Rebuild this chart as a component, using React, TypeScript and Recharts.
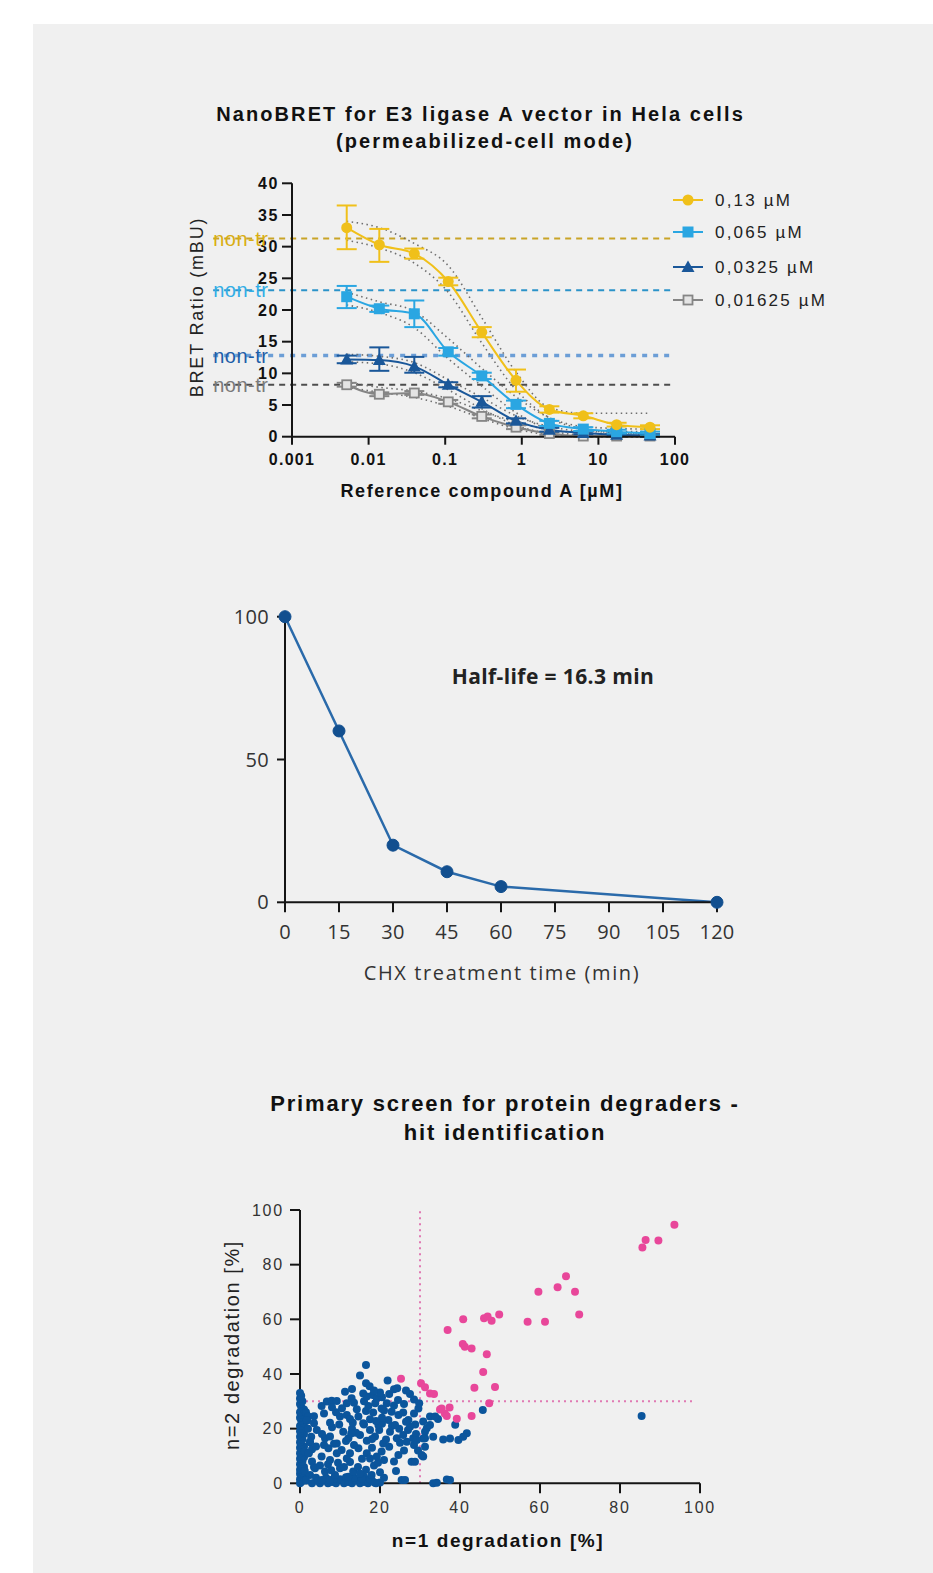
import React from 'react';
import { LineChart, Line, XAxis, YAxis, ErrorBar, ReferenceLine, ScatterChart, Scatter } from 'recharts';

// ---------- Chart 1: NanoBRET ----------
const concentrations = [0.00518, 0.0138, 0.0395, 0.1096, 0.3, 0.84, 2.29, 6.35, 17.3, 47.2];
const logTicks = [0.001, 0.01, 0.1, 1, 10, 100];
const bretTicks = [0, 5, 10, 15, 20, 25, 30, 35, 40];
const seriesNames = ['0,13 µM', '0,065 µM', '0,0325 µM', '0,01625 µM'];
const seriesColors = ['#f0c01a', '#2aa6e2', '#1a5799', '#858585'];
const seriesMarkers = ['circle', 'square', 'triangle', 'openSquare'];

const bret013 = [33.0, 30.3, 28.9, 24.5, 16.5, 8.9, 4.3, 3.3, 1.9, 1.5];
const err013 = [[3.4, 3.5], [2.7, 2.5], [0.8, 0.8], [0.6, 0.6], [0.8, 0.8], [1.8, 1.7], [0.5, 0.5], [0.4, 0.4], [0.3, 0.3], [0.3, 0.3]];
const bret0065 = [22.1, 20.2, 19.4, 13.4, 9.6, 5.1, 2.1, 1.2, 0.8, 0.5];
const err0065 = [[1.8, 1.7], [0.5, 0.5], [2.1, 2.1], [0.6, 0.6], [0.5, 0.5], [0.6, 0.6], [0.4, 0.4], [0.3, 0.3], [0.3, 0.3], [0.3, 0.3]];
const bret00325 = [12.2, 12.1, 11.1, 8.2, 5.5, 2.5, 1.1, 0.6, 0.3, 0.2];
const err00325 = [[0.6, 0.6], [1.7, 2.0], [1.0, 1.5], [0.4, 0.4], [0.9, 0.9], [0.4, 0.4], [0.3, 0.3], [0.2, 0.2], [0.2, 0.2], [0.2, 0.2]];
const bret001625 = [8.2, 6.7, 6.9, 5.5, 3.2, 1.5, 0.5, 0.1, 0.1, 0.1];
const err001625 = [[0.3, 0.3], [0.3, 0.3], [0.3, 0.3], [0.3, 0.3], [0.3, 0.3], [0.3, 0.3], [0.2, 0.2], [0.1, 0.1], [0.1, 0.1], [0.1, 0.1]];

const band013Hi = [34.0, 33.0, 30.5, 27.0, 18.8, 10.2, 4.6, 3.7, 3.7, 3.7];
const band013Lo = [31.0, 29.8, 27.4, 22.8, 14.8, 7.4, 3.0, 1.2, 0.6, 0.4];
const band0065Hi = [22.8, 21.3, 19.8, 15.5, 10.8, 6.3, 3.0, 1.6, 1.3, 1.2];
const band0065Lo = [20.8, 19.6, 17.2, 12.3, 8.0, 3.8, 1.1, 0.2, 0, 0];
const band00325Hi = [13.0, 12.7, 11.7, 9.0, 6.2, 3.3, 1.6, 0.9, 0.8, 0.8];
const band00325Lo = [11.8, 11.5, 10.1, 7.4, 4.4, 1.8, 0.5, 0.1, 0, 0];
const band001625Hi = [8.6, 7.8, 7.2, 6.0, 4.1, 2.3, 1.1, 0.6, 0.5, 0.5];
const band001625Lo = [7.8, 7.0, 6.2, 4.8, 2.9, 1.2, 0.3, 0, 0, 0];

const nonTreatedLevels = [31.3, 23.1, 12.8, 8.2];
const nonTreatedLineColors = ['#c9a427', '#2b93c9', '#6c9ed6', '#4d4d4d'];
const nonTreatedLabelColors = ['#d9ae12', '#33aee6', '#1d5ea8', '#7a7a7a'];
const nonTreatedWidths = [2, 2, 3.5, 2];

const bretRows = concentrations.map((c, i) => ({
  conc: c,
  s1: bret013[i], e1: err013[i], h1: band013Hi[i], l1: band013Lo[i],
  s2: bret0065[i], e2: err0065[i], h2: band0065Hi[i], l2: band0065Lo[i],
  s3: bret00325[i], e3: err00325[i], h3: band00325Hi[i], l3: band00325Lo[i],
  s4: bret001625[i], e4: err001625[i], h4: band001625Hi[i], l4: band001625Lo[i],
}));

// ---------- Chart 2: CHX chase ----------
const chxTimes = [0, 15, 30, 45, 60, 120];
const chxValues = [100, 60, 20, 10.7, 5.5, 0];
const chxTicks = [0, 15, 30, 45, 60, 75, 90, 105, 120];
const chxRows = chxTimes.map((t, i) => ({ t, v: chxValues[i] }));

// ---------- Chart 3: primary screen ----------
const pctTicks = [0, 20, 40, 60, 80, 100];
const blueCompounds: number[][] = [
  [0, 0], [0.3, 0.5], [0.6, 1], [0, 1.5], [1, 2], [0.3, 3], [0, 3.5], [0.6, 4], [0, 5], [1, 6], [0.3, 6.5], [0, 7], [0.6, 8], [0, 9], [1, 9.5],
  [0.3, 10], [0, 11], [0.6, 12], [0, 13], [1, 13.5], [0.3, 14], [0, 15], [0.6, 16], [0, 17], [1, 18], [0.3, 18.5], [0, 19], [0.6, 20], [0, 21],
  [1, 22], [0.3, 23], [0, 24], [0.6, 25], [0, 26], [1, 27], [0.3, 28], [0, 29], [0.6, 30], [0, 31], [0.3, 32], [0, 33], [1.2, 11.5], [1.2, 4.5],
  [1.5, 26], [1.8, 23], [2, 20], [2.5, 15], [2.2, 11], [3, 8], [3.5, 6], [2.5, 3], [3.75, 5.5], [1.5, 1], [3, 0], [4, 2], [4.2, 19.5], [3.5, 22],
  [2.8, 17], [2, 24.5], [3, 12.5],
  [5, 0], [6, 1], [7, 0], [8, 0.5], [9, 0], [10, 1.5], [11, 0], [12, 0.5], [13, 0], [14, 1], [15, 0], [16, 0.5], [17, 0], [18, 1], [19, 0],
  [20, 0.3], [4.5, 0.8], [6.5, 2], [8.5, 1.8], [11.5, 2.2], [13.5, 2], [16, 2.5], [17.5, 1.5], [18.7, 0.2],
  [5.4, 1.2], [6.25, 4.3], [7.5, 1.2], [8.75, 3], [10, 5.5], [12.1, 2.4], [13.3, 4.3], [15.4, 1.8], [17.9, 3], [5, 6.5], [7, 7], [9.5, 7.5],
  [11, 6], [12.5, 7.8], [14.5, 6], [16.5, 5], [18.5, 6.5], [20, 4], [24, 4.5], [25.4, 1.2], [19.5, 7.5], [21, 2], [7.8, 4.8], [15, 3.5],
  [2.1, 11], [5.4, 9.8], [7.1, 12.8], [9.2, 11], [10.4, 12.2], [12.5, 11], [14.6, 12.8], [16.7, 11], [17.5, 9.1], [19.2, 9.8], [20.4, 11.6],
  [22.3, 13.4], [24.6, 10.4], [27.9, 7.9], [30.8, 9.8], [11.7, 9.1], [7.5, 8.5], [6, 14], [8.5, 14.5], [13.5, 14], [18, 13], [21, 8.5],
  [23.5, 8], [26, 12], [28.5, 14], [15.5, 9], [4, 13.5], [25, 14.8], [29.5, 12],
  [6.25, 16.5], [7.5, 17.1], [9.2, 14.6], [10.8, 18.9], [12.1, 16.5], [15, 17.7], [16.7, 15.6], [18.75, 17.1], [20.8, 14.6], [22.5, 18.9],
  [24.2, 16.5], [25.8, 17.7], [26.7, 15.2], [28.3, 16.5], [31.25, 16.5], [31.25, 18.9], [17.5, 19.5], [2.5, 15.2], [8, 20.5], [13, 20],
  [19.8, 19.5], [21.5, 16], [23, 21], [27, 19.5], [29, 18], [11.5, 15.5], [14, 18.5], [5.5, 18], [9.8, 21.5], [16, 21.5], [18, 16.2],
  [20.5, 21.8], [24.8, 20], [28.8, 21.5], [12.8, 18.2],
  [1.7, 23.2], [7.5, 22.2], [10, 24.4], [11.7, 25], [13.2, 22.2], [14.6, 24.4], [15.8, 22], [17.5, 23.4], [18.3, 25.9], [19.6, 21.3],
  [22.1, 23.2], [23.75, 21.3], [24.6, 25], [25.8, 25.9], [27.1, 23.2], [27.5, 20.7], [30.8, 22.6], [31.7, 20.1], [32.5, 24.4], [9, 26],
  [16.5, 26.5], [20.5, 24], [21, 26.6], [26.5, 22.5], [29.6, 27.4], [6, 25.5], [12.5, 23.5], [19, 22.8], [3.5, 24.5], [28.5, 25.5],
  [5.4, 28.3], [6.7, 29.9], [7.9, 30.2], [9.2, 30.1], [11.7, 29.3], [12.9, 31.1], [14.2, 27.1], [17.1, 28.3], [18.8, 29.3], [20.4, 27.4],
  [21.7, 29.3], [22.9, 26.2], [15.8, 32.9], [18.2, 32.3], [19.2, 31.1], [27.5, 32.7], [28.5, 30.7], [29.8, 29.3], [10.5, 27.5], [13.5, 29.5],
  [16, 30], [20.5, 31.5], [23.5, 28.5], [24.5, 30.5], [26, 29], [8, 27.8], [16.7, 31.8], [22.3, 32.7], [11.25, 33.5], [20, 33.2],
  [16.5, 43.3], [15, 39.4], [16.5, 36.6], [21.9, 37.6], [23.5, 34.4], [24.3, 34.8], [17.4, 35.5], [26.5, 34], [18.5, 34], [13, 34.5],
  [85.4, 24.6], [45.7, 26.8], [41.7, 18.3], [40.8, 17], [39.6, 15.8], [37.5, 16.4], [35.8, 16], [38.8, 21.4], [36.7, 1.4], [33.3, 0],
  [34.2, 0.2], [37.5, 1.2], [26.25, 1.2], [32.5, 21.3], [33.3, 17], [30.8, 16.4], [29.2, 15.8], [31.25, 13.4], [28.75, 7.9], [30.4, 10.4],
  [34.5, 23.5], [33.8, 24.4],
];
const pinkHits: number[][] = [
  [93.6, 94.6], [86.4, 89], [85.6, 86.3], [89.6, 88.8], [66.5, 75.8], [64.4, 71.7], [59.6, 70.1], [68.75, 70.1], [69.8, 61.8], [49.8, 61.8],
  [56.9, 59.1], [61.25, 59.1], [40.8, 60], [46, 60.4], [46.9, 61], [47.9, 59.5], [36.9, 56.1], [40.7, 51], [41.2, 50], [42.9, 49.3],
  [46.7, 47.2], [45.8, 40.7], [43.6, 35], [48.75, 35.2], [47.3, 29.3], [42.9, 24.6], [25.25, 38.3], [30.25, 36.6], [31.25, 35.1],
  [32.5, 32.9], [35, 27], [36.2, 25.5], [37.4, 27.7], [36.7, 24.6], [39.2, 23.6], [35.4, 27.4], [33.5, 32.7],
];
const hitThreshold = 30;
const blueRows = blueCompounds.map(([x, y]) => ({ x, y }));
const pinkRows = pinkHits.map(([x, y]) => ({ x, y }));

// ---------- helpers ----------
const ARIAL = 'Liberation Sans, Arial, Helvetica, sans-serif';
const OPEN = '"Open Sans", "Noto Sans", sans-serif';

function marker(kind: string, color: string, cx: number, cy: number, key?: any) {
  if (cx == null || cy == null || isNaN(cx) || isNaN(cy)) return <g key={key} />;
  if (kind === 'circle') return <circle key={key} cx={cx} cy={cy} r={5.5} fill={color} />;
  if (kind === 'square') return <rect key={key} x={cx - 5.5} y={cy - 5.5} width={11} height={11} fill={color} />;
  if (kind === 'triangle')
    return <polygon key={key} points={`${cx},${cy - 6.5} ${cx + 6.5},${cy + 5} ${cx - 6.5},${cy + 5}`} fill={color} />;
  return <rect key={key} x={cx - 4.5} y={cy - 4.5} width={9} height={9} fill="#e4e4e4" stroke={color} strokeWidth={1.8} />;
}

const axisStroke = { stroke: '#151515', strokeWidth: 2 };

export default function App() {
  const seriesOrder = [3, 2, 1, 0];
  return (
    <div style={{ position: 'absolute', left: 0, top: 0, width: 933, height: 1573, background: '#ffffff', overflow: 'hidden' }}>
      <div style={{ position: 'absolute', left: 33, top: 24, width: 900, height: 1549, background: '#f0f0f0' }} />

      {/* Chart 1 */}
      <div style={{ position: 'absolute', left: 0, top: 160 }}>
        <LineChart width={933} height={330} data={bretRows} margin={{ top: 23.3, right: 258, bottom: 23.3, left: 242 }}>
          <XAxis
            dataKey="conc" type="number" scale="log" domain={[0.001, 100]} ticks={logTicks} allowDataOverflow
            height={30} tickSize={8} tickMargin={9} axisLine={axisStroke} tickLine={axisStroke}
            tickFormatter={(v: number) => String(v)}
            tick={{ fill: '#111', fontSize: 16, fontWeight: 700, fontFamily: ARIAL, style: { letterSpacing: 1.3 } } as any}
          />
          <YAxis
            type="number" domain={[0, 40]} ticks={bretTicks} width={50} tickSize={10} tickMargin={3}
            axisLine={axisStroke} tickLine={axisStroke}
            tick={{ fill: '#111', fontSize: 16, fontWeight: 700, fontFamily: ARIAL, style: { letterSpacing: 1.6 } } as any}
          />
          {nonTreatedLevels.map((lv, i) => (
            <ReferenceLine
              key={'nt' + i}
              segment={[{ x: 0.0000935, y: lv }, { x: 100, y: lv }]}
              ifOverflow="visible"
              stroke={nonTreatedLineColors[i]}
              strokeWidth={nonTreatedWidths[i]}
              strokeDasharray={i === 2 ? '5 6' : '6 5'}
              label={{ value: 'non-tr', position: 'insideLeft', offset: 0, fill: nonTreatedLabelColors[i], fontSize: 20, fontFamily: ARIAL, style: { letterSpacing: 0.5 } } as any}
            />
          ))}
          {seriesOrder.map((k) => (
            <Line key={'h' + k} dataKey={'h' + (k + 1)} type="monotone" stroke="#6e6e6e" strokeWidth={1.6}
              strokeDasharray="1.5 3.5" dot={false} activeDot={false} isAnimationActive={false} />
          ))}
          {seriesOrder.map((k) => (
            <Line key={'l' + k} dataKey={'l' + (k + 1)} type="monotone" stroke="#6e6e6e" strokeWidth={1.6}
              strokeDasharray="1.5 3.5" dot={false} activeDot={false} isAnimationActive={false} />
          ))}
          {seriesOrder.map((k) => (
            <Line
              key={'s' + k}
              dataKey={'s' + (k + 1)}
              type="monotone"
              stroke={seriesColors[k]}
              strokeWidth={2}
              isAnimationActive={false}
              activeDot={false}
              dot={(p: any) => marker(seriesMarkers[k], seriesColors[k], p.cx, p.cy, `m${k}-${p.index}`)}
            >
              <ErrorBar dataKey={'e' + (k + 1)} direction="y" width={10} strokeWidth={2} stroke={seriesColors[k]} />
            </Line>
          ))}
        </LineChart>
      </div>

      {/* Chart 2 */}
      <div style={{ position: 'absolute', left: 0, top: 590 }}>
        <LineChart width={933} height={360} data={chxRows} margin={{ top: 26.7, right: 216, bottom: 7.7, left: 225 }}>
          <XAxis
            dataKey="t" type="number" domain={[0, 120]} ticks={chxTicks} height={40} tickSize={10} tickMargin={12}
            axisLine={axisStroke} tickLine={axisStroke}
            tick={{ fill: '#333', fontSize: 20, fontFamily: OPEN, style: { letterSpacing: 0.3 } } as any}
          />
          <YAxis
            type="number" domain={[0, 100]} ticks={[0, 50, 100]} width={60} tickSize={8} tickMargin={8}
            axisLine={axisStroke} tickLine={axisStroke}
            tick={{ fill: '#333', fontSize: 20, fontFamily: OPEN, style: { letterSpacing: 0.3 } } as any}
          />
          <Line dataKey="v" type="linear" stroke="#2a6aaa" strokeWidth={2.5} isAnimationActive={false} activeDot={false}
            dot={{ r: 6, fill: '#124f8f', stroke: '#124f8f', strokeWidth: 1 }} />
        </LineChart>
      </div>

      {/* Chart 3 */}
      <div style={{ position: 'absolute', left: 0, top: 1190 }}>
        <ScatterChart width={933} height={330} margin={{ top: 20, right: 233, bottom: 1.7, left: 240 }}>
          <XAxis
            dataKey="x" type="number" domain={[0, 100]} ticks={pctTicks} height={35} tickSize={10} tickMargin={8}
            axisLine={axisStroke} tickLine={axisStroke}
            tick={{ fill: '#333', fontSize: 16, fontFamily: ARIAL, style: { letterSpacing: 1.8 } } as any}
          />
          <YAxis
            dataKey="y" type="number" domain={[0, 100]} ticks={pctTicks} width={60} tickSize={10} tickMargin={6}
            axisLine={axisStroke} tickLine={axisStroke}
            tick={{ fill: '#333', fontSize: 16, fontFamily: ARIAL, style: { letterSpacing: 1.8 } } as any}
          />
          <ReferenceLine x={hitThreshold} stroke="#e07ab3" strokeWidth={2} strokeDasharray="2 4" />
          <ReferenceLine segment={[{ x: 1.5, y: hitThreshold }, { x: 99, y: hitThreshold }]} ifOverflow="visible"
            stroke="#e07ab3" strokeWidth={2} strokeDasharray="2 4" />
          <Scatter data={blueRows} isAnimationActive={false}
            shape={(p: any) => <circle cx={p.cx} cy={p.cy} r={4} fill="#0b559c" />} />
          <Scatter data={pinkRows} isAnimationActive={false}
            shape={(p: any) => <circle cx={p.cx} cy={p.cy} r={4} fill="#e8479a" />} />
        </ScatterChart>
      </div>

      {/* Text overlay */}
      <svg width={933} height={1573} style={{ position: 'absolute', left: 0, top: 0, pointerEvents: 'none' }}>
        <g fontFamily={ARIAL} fill="#111">
          <text x={480.5} y={114} textAnchor="middle" dominantBaseline="central" fontSize={20} fontWeight={700} style={{ letterSpacing: 2.1 }}>
            NanoBRET for E3 ligase A vector in Hela cells
          </text>
          <text x={485} y={141} textAnchor="middle" dominantBaseline="central" fontSize={20} fontWeight={700} style={{ letterSpacing: 2.1 }}>
            (permeabilized-cell mode)
          </text>
          <text x={197} y={307} textAnchor="middle" dominantBaseline="central" fontSize={18} fill="#222"
            transform="rotate(-90 197 307)" style={{ letterSpacing: 1.8 }}>
            BRET Ratio (mBU)
          </text>
          <text x={482} y={491} textAnchor="middle" dominantBaseline="central" fontSize={18} fontWeight={700} style={{ letterSpacing: 1.6 }}>
            Reference compound A [µM]
          </text>
          {seriesNames.map((n, i) => {
            const ly = [200, 232, 267, 300][i];
            return (
              <g key={'lg' + i}>
                <line x1={673} x2={703} y1={ly} y2={ly} stroke={seriesColors[i]} strokeWidth={2} />
                {marker(seriesMarkers[i], seriesColors[i], 688, ly)}
                <text x={715} y={ly} dominantBaseline="central" fontSize={17} fill="#222" style={{ letterSpacing: 2.2 }}>{n}</text>
              </g>
            );
          })}
          <text x={553} y={676} textAnchor="middle" dominantBaseline="central" fontSize={21} fontWeight={700} fontFamily={OPEN} fill="#222" style={{ letterSpacing: 0.4 }}>
            Half-life = 16.3 min
          </text>
          <text x={502} y={972} textAnchor="middle" dominantBaseline="central" fontSize={20} fontFamily={OPEN} fill="#333" style={{ letterSpacing: 1.6 }}>
            CHX treatment time (min)
          </text>
          <text x={505} y={1103} textAnchor="middle" dominantBaseline="central" fontSize={22} fontWeight={700} style={{ letterSpacing: 1.8 }}>
            Primary screen for protein degraders -
          </text>
          <text x={505} y={1132} textAnchor="middle" dominantBaseline="central" fontSize={22} fontWeight={700} style={{ letterSpacing: 1.8 }}>
            hit identification
          </text>
          <text x={232} y={1345} textAnchor="middle" dominantBaseline="central" fontSize={20} fill="#222"
            transform="rotate(-90 232 1345)" style={{ letterSpacing: 1.6 }}>
            n=2 degradation [%]
          </text>
          <text x={498} y={1540} textAnchor="middle" dominantBaseline="central" fontSize={19} fontWeight={700} style={{ letterSpacing: 1.6 }}>
            n=1 degradation [%]
          </text>
        </g>
      </svg>
    </div>
  );
}
